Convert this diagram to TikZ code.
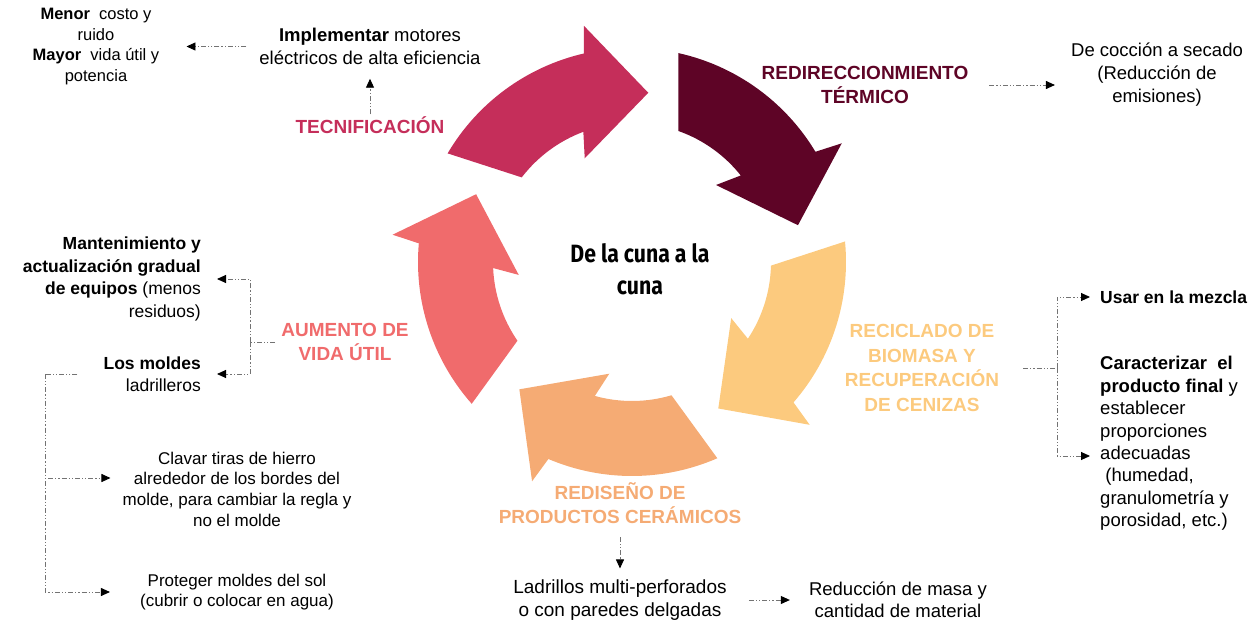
\documentclass[tikz,border=0pt]{standalone}
\usepackage{fontspec}
\setmainfont{Liberation Sans}
\newfontfamily\cunafont[FakeStretch=0.85]{Fira Sans}
\usetikzlibrary{arrows.meta}
\definecolor{tecnicol}{HTML}{C52E5A}
\definecolor{redircol}{HTML}{5E0426}
\definecolor{reciccol}{HTML}{FCCA7E}
\definecolor{rediscol}{HTML}{F5AB74}
\definecolor{aumentcol}{HTML}{F06B6C}
\begin{document}
\begin{tikzpicture}[x=1pt, y=1pt,
    txt/.style={font=\fontsize{18.5}{22.5}\selectfont, align=center, inner sep=2pt},
    small/.style={font=\fontsize{17}{20.7}\selectfont, align=center, inner sep=2pt},
    head/.style={font=\bfseries\fontsize{19}{24.5}\selectfont, align=center, inner sep=2pt},
    plain/.style={draw=black!55, line width=0.9pt, dash pattern=on 5pt off 2pt on 1.2pt off 2pt on 1.2pt off 2pt},
    link/.style={plain, -{Triangle[length=9pt, width=8pt, color=black]}}]
  \useasboundingbox (0,0) rectangle (1255,-623);
  % the five arrows of the cycle
  \foreach \a/\col in {149.5/tecnicol, 77.5/redircol, 5.5/reciccol, -66.5/rediscol, -138.5/aumentcol}
    \fill[\col, shift={(632,-262)}] (\a:214) arc[start angle=\a, delta angle=-46.5, radius=214]
      -- ({\a-48}:241) -- ({\a-65}:170) -- ({\a-35}:114) -- ({\a-39}:139)
      arc[start angle=\a-39, delta angle=32, radius=139] -- cycle;
  \node[font=\cunafont\bfseries\fontsize{25}{32}\selectfont, align=center] (cuna) at (640,-269) {De la cuna a la\\cuna};
  % tecnificacion
  \node[head, text=tecnicol] (tecn) at (370,-125) {TECNIFICACIÓN};
  \node[txt] (motor) at (370,-46.5) {{\bfseries Implementar} motores\\eléctricos de alta eficiencia};
  \node[txt, font=\fontsize{16.5}{20.5}\selectfont] (menor) at (96,-46.5)
    {{\bfseries Menor}~~costo y\\ruido\\{\bfseries Mayor}~~vida útil y\\potencia};
  % redireccionamiento
  \node[head, text=redircol] (redir) at (865,-85) {REDIRECCIONMIENTO\\TÉRMICO};
  \node[txt, font=\fontsize{18.5}{23}\selectfont] (coccion) at (1157,-75) {De cocción a secado\\(Reducción de\\emisiones)};
  % reciclado
  \node[head, text=reciccol] (recic) at (922,-368) {RECICLADO DE\\BIOMASA Y\\RECUPERACIÓN\\DE CENIZAS};
  \node[txt, anchor=west, font=\bfseries\fontsize{17.5}{22}\selectfont] (usar) at (1098,-297) {Usar en la mezcla};
  \node[txt, anchor=west, align=left, font=\fontsize{18.5}{22.4}\selectfont] (caract) at (1098,-443.5)
    {{\bfseries Caracterizar~~el}\\{\bfseries producto final} y\\establecer\\proporciones\\adecuadas\\~(humedad,\\granulometría y\\porosidad, etc.)};
  % rediseno
  \node[head, text=rediscol] (redis) at (620,-503) {REDISEÑO DE\\PRODUCTOS CERÁMICOS};
  \node[txt, font=\fontsize{19}{23}\selectfont] (ladr) at (620,-600) {Ladrillos multi-perforados\\o con paredes delgadas};
  \node[txt] (reduc) at (898,-600) {Reducción de masa y\\cantidad de material};
  % aumento de vida util
  \node[head, text=aumentcol] (aument) at (345,-342) {AUMENTO DE\\VIDA ÚTIL};
  \node[txt, anchor=east, align=right, font=\fontsize{17.5}{22.7}\selectfont] (mant) at (203,-279)
    {{\bfseries Mantenimiento y}\\{\bfseries actualización gradual}\\{\bfseries de equipos} (menos\\residuos)};
  \node[txt, anchor=east, align=right, font=\fontsize{17.5}{22}\selectfont] (moldes) at (203,-374) {{\bfseries Los moldes}\\ladrilleros};
  \node[small] (clavar) at (237,-489) {Clavar tiras de hierro\\alrededor de los bordes del\\molde, para cambiar la regla y\\no el molde};
  \node[small] (proteger) at (237,-592) {Proteger moldes del sol\\(cubrir o colocar en agua)};
  \coordinate (rb) at (1057,-368);
  \coordinate (lb) at (250,-342);
  \coordinate (mb) at (45,-374);
  % connectors
  \draw[link, shorten >=12pt] (tecn) -- (motor);
  \draw[link, shorten <=11pt, shorten >=25pt] (motor.west) -- (menor.east);
  \draw[link, shorten <=19pt, shorten >=14pt] (redir.east) -- (redir.east -| coccion.west);
  \draw[plain, shorten <=22pt] (recic.east) -- (rb);
  \draw[link, shorten >=8pt] (rb) |- (usar.west);
  \draw[link, shorten >=8pt] (rb) |- ([yshift=-12.5pt]caract.west);
  \draw[link, shorten <=11pt, shorten >=9pt] (redis) -- (ladr);
  \draw[link, shorten <=20pt, shorten >=17pt] (ladr) -- (reduc);
  \draw[plain, shorten <=4pt] (aument.west) -- (lb);
  \draw[link, shorten >=14pt] (lb) |- (mant.east);
  \draw[link, shorten >=14pt] (lb) |- (moldes.east);
  \draw[plain, shorten <=24pt] (moldes.west) -- (mb);
  \draw[link, shorten >=10pt] (mb) |- ([yshift=11pt]clavar.west);
  \draw[link, shorten >=28pt] (mb) |- (proteger.west);
\end{tikzpicture}
\end{document}
